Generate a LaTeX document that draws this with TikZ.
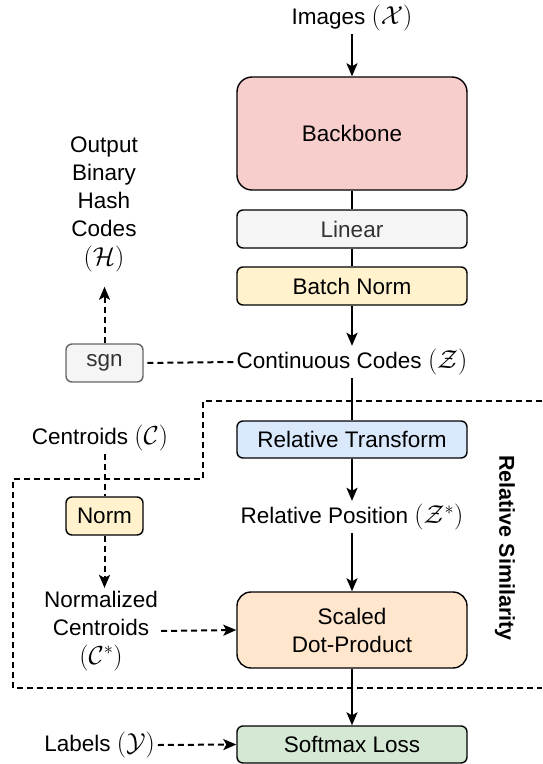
\documentclass[tikz,border=0pt]{standalone}
\usepackage{fix-cm}
\usepackage{fontspec}
\setmainfont{Liberation Sans}
\usetikzlibrary{arrows.meta}

\definecolor{bbfill}{HTML}{F8CECC}
\definecolor{grayfill}{HTML}{F5F5F5}
\definecolor{grayline}{HTML}{666666}
\definecolor{grayText}{HTML}{333333}
\definecolor{yelfill}{HTML}{FFF2CC}
\definecolor{bluefill}{HTML}{DAE8FC}
\definecolor{orgfill}{HTML}{FFE6CC}
\definecolor{grnfill}{HTML}{D5E8D4}

% symbols are set a little larger than the surrounding words
\newcommand{\sym}[1]{{\fontsize{26}{28}\selectfont$#1$}}

\tikzset{
  every node/.style={font=\fontsize{22.5}{28}\selectfont},
  box/.style={draw=black, line width=1.4pt, rounded corners=6pt,
    minimum width=230pt, minimum height=38pt, inner sep=0pt, align=center},
  smallbox/.style={draw=black, line width=1.4pt, rounded corners=6pt,
    minimum width=77pt, minimum height=38pt, inner sep=0pt},
  label/.style={inner sep=3pt, align=center},
  conn/.style={line width=2pt, -{Stealth[length=13pt,width=11pt,inset=3pt]}},
  plainline/.style={line width=2.2pt},
  dconn/.style={line width=2pt, dash pattern=on 6pt off 4pt,
    -{Stealth[length=13pt,width=11pt,inset=3pt]}},
  dline/.style={line width=2pt, dash pattern=on 6pt off 4pt},
}

\begin{document}
\begin{tikzpicture}[x=1pt,y=-1pt]
  \useasboundingbox (0,0) rectangle (542,764);

  % group boundary of the relative similarity head
  \draw[dline] (542,401) -- (203,401) -- (203,479) -- (13,479)
    -- (13,688) -- (542,688);

  % main pipeline
  \node[label] (img) at (352,18) {Images \sym{(\mathcal{X})}};
  \node[box, fill=bbfill, minimum height=113pt, rounded corners=15pt]
    (bb) at (352,133.5) {Backbone};
  \node[box, fill=grayfill, text=grayText] (lin) at (352,229) {Linear};
  \node[box, fill=yelfill] (bn) at (352,286) {Batch Norm};
  \node[label] (cc) at (352,362) {Continuous Codes \sym{(\mathcal{Z})}};
  \node[box, fill=bluefill, minimum height=37pt] (rt) at (352,439.5) {Relative Transform};
  \node[label] (rp) at (352,517) {Relative Position \sym{(\mathcal{Z}^{*})}};
  \node[box, fill=orgfill, minimum height=76pt, rounded corners=14pt]
    (sdp) at (352,630) {Scaled\\Dot-Product};
  \node[box, fill=grnfill, minimum height=37pt] (sm) at (352,744.5) {Softmax Loss};

  % hashing branch
  \node[smallbox, fill=grayfill, draw=grayline, text=grayText] (sgn) at (104.5,363) {sgn};
  \node[label] (hash) at (104,204) {Output\\Binary\\Hash\\Codes\\[1pt]\sym{(\mathcal{H})}};

  % centroid branch
  \node[label] (cent) at (100,438) {Centroids \sym{(\mathcal{C})}};
  \node[smallbox, fill=yelfill] (norm) at (104.5,516) {Norm};
  \node[label] (ncent) at (101,631) {Normalized\\Centroids\\[1pt]\sym{(\mathcal{C}^{*})}};
  \node[label] (lab) at (99.5,745) {Labels \sym{(\mathcal{Y})}};

  \node[font=\fontsize{21.5}{27}\selectfont\bfseries, rotate=-90] (rs) at (505,548)
    {Relative Similarity};

  % connectors
  \draw[conn] (img) -- (bb);
  \draw[plainline] (bb) -- (lin);
  \draw[plainline] (lin) -- (bn);
  \draw[conn] (bn) -- (cc);
  \draw[plainline] (cc) -- (rt);
  \draw[conn] (rt) -- (rp);
  \draw[conn] (rp) -- (sdp);
  \draw[conn] (sdp) -- (sm);

  \draw[dline] (cc.west) -- (sgn.east);
  \draw[dconn, shorten >=12pt] (sgn.north) -- (hash.south -| sgn.north);
  \draw[dline] (cent.south -| norm.north) -- (norm.north);
  \draw[dconn] (norm.south) -- (ncent.north -| norm.south);
  \draw[dconn] (ncent.east) -- (sdp.west);
  \draw[dconn] (lab.east) -- (sm.west);
\end{tikzpicture}
\end{document}
